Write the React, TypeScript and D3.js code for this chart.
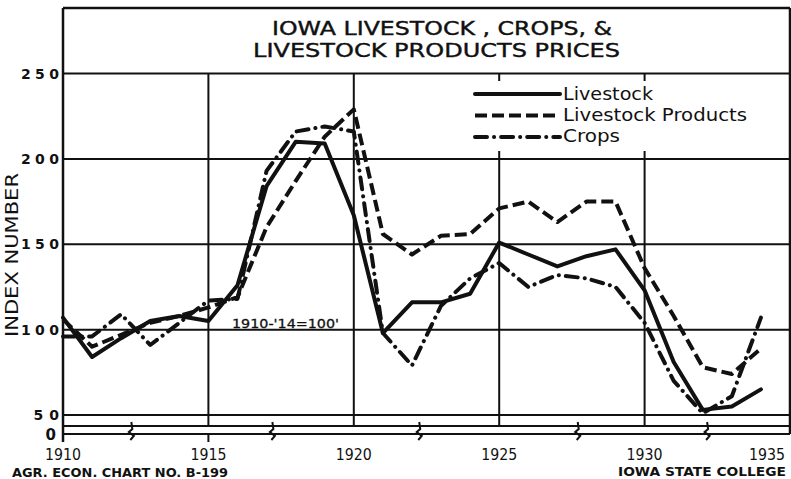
import React from 'react';
import * as d3 from 'd3';

const years = [1910, 1911, 1912, 1913, 1914, 1915, 1916, 1917, 1918, 1919, 1920, 1921, 1922, 1923, 1924, 1925, 1926, 1927, 1928, 1929, 1930, 1931, 1932, 1933, 1934];
const livestock = [107, 84, 95, 105, 108, 105, 126, 184, 210, 209, 167, 98, 116, 116, 121, 151, 144, 137, 143, 147, 123, 81, 53, 55, 65];
const livestockProducts = [106, 90, 97, 104, 108, 113, 119, 160, 187, 213, 229, 156, 144, 155, 156, 171, 175, 163, 175, 175, 136, 108, 78, 74, 89];
const crops = [96, 96, 109, 91, 104, 117, 118, 193, 216, 219, 216, 98, 79, 114, 130, 139, 125, 132, 130, 125, 104, 70, 51, 61, 107];

const yTicks = [50, 100, 150, 200, 250];
const xTicks = [1910, 1915, 1920, 1925, 1930, 1935];
const gridYears = [1915, 1920, 1925, 1930];
const breakYears = [1912.35, 1917.2, 1922.25, 1927.7, 1932.15];
const titleLines = ['IOWA LIVESTOCK , CROPS, &', 'LIVESTOCK PRODUCTS PRICES'];
const legendLabels = ['Livestock', 'Livestock Products', 'Crops'];

const W = 791;
const H = 479;
const LEFT = 63;
const RIGHT = 790;
const TOP = 8;
const INK = '#111';
const FONT = "'DejaVu Sans', 'Liberation Sans', sans-serif";

const styles = [
  { dash: undefined, cap: 'round' },
  { dash: '12,5', cap: 'butt' },
  { dash: '12,7,0.1,7', cap: 'round' },
];

export default function App() {
  const x = d3.scaleLinear().domain([1910, 1935]).range([LEFT, RIGHT]);
  const y = d3.scaleLinear().domain([50, 250]).range([415, 73.5]);
  const breakTop = y(50) + 11;
  const zeroY = y(50) + 19;

  const series = [livestock, livestockProducts, crops];
  const line = d3
    .line<number>()
    .x((_, i) => x(years[i]))
    .y((d) => y(d));

  const legendX0 = 475;
  const legendX1 = 560;
  const legendYs = [94, 115.5, 137];
  const legendBase = [99.5, 120.5, 141.5];
  const legendLens = [90, 184, 57];

  return (
    <svg
      width={W}
      height={H}
      style={{ position: 'absolute', left: 0, top: 0, background: '#fff' }}
      fontFamily={FONT}
    >
      <rect x={0} y={0} width={W} height={H} fill="#fff" />

      {yTicks.map((t) => (
        <line key={'h' + t} x1={LEFT} x2={RIGHT} y1={y(t)} y2={y(t)} stroke={INK} strokeWidth={2} />
      ))}
      {gridYears.map((g) => (
        <line key={'v' + g} x1={x(g)} x2={x(g)} y1={y(250)} y2={breakTop} stroke={INK} strokeWidth={2} />
      ))}
      <line x1={x(1915)} x2={x(1915)} y1={zeroY} y2={zeroY + 8} stroke={INK} strokeWidth={2} />

      <line x1={LEFT} x2={RIGHT} y1={breakTop} y2={breakTop} stroke={INK} strokeWidth={2} />
      <line x1={LEFT} x2={RIGHT} y1={zeroY} y2={zeroY} stroke={INK} strokeWidth={2} />
      {breakYears.map((b) => {
        const bx = x(b);
        return (
          <path
            key={'b' + b}
            d={`M${bx},${breakTop - 4} L${bx + 1},${breakTop + 3} L${bx - 2.5},${zeroY - 2} L${bx + 2.5},${zeroY + 2} L${bx - 1},${zeroY + 6}`}
            fill="none"
            stroke={INK}
            strokeWidth={2}
          />
        );
      })}

      <line x1={LEFT} x2={RIGHT} y1={TOP} y2={TOP} stroke={INK} strokeWidth={2.5} />
      <line x1={LEFT} x2={LEFT} y1={TOP} y2={zeroY + 8} stroke={INK} strokeWidth={2.5} />
      <line x1={RIGHT} x2={RIGHT} y1={TOP} y2={zeroY} stroke={INK} strokeWidth={2.5} />

      <text x={272} y={35} fontSize={19} textLength={340} lengthAdjust="spacingAndGlyphs" fill={INK} stroke={INK} strokeWidth={0.4}>
        {titleLines[0]}
      </text>
      <text x={253} y={57} fontSize={19} textLength={367} lengthAdjust="spacingAndGlyphs" fill={INK} stroke={INK} strokeWidth={0.4}>
        {titleLines[1]}
      </text>

      <rect x={468} y={81} width={316} height={70} fill="#fff" />
      {legendLabels.map((lab, i) => (
        <g key={lab}>
          <line
            x1={legendX0}
            x2={legendX1}
            y1={legendYs[i]}
            y2={legendYs[i]}
            stroke={INK}
            strokeWidth={4}
            strokeDasharray={styles[i].dash}
            strokeLinecap={styles[i].cap as any}
          />
          <text x={563} y={legendBase[i]} fontSize={17} textLength={legendLens[i]} lengthAdjust="spacingAndGlyphs" fill={INK}>
            {lab}
          </text>
        </g>
      ))}

      {series.map((s, i) => (
        <path
          key={'s' + i}
          d={line(s) || ''}
          fill="none"
          stroke={INK}
          strokeWidth={4}
          strokeLinejoin="round"
          strokeDasharray={styles[i].dash}
          strokeLinecap={styles[i].cap as any}
        />
      ))}

      <text x={232} y={328} fontSize={13} textLength={107} lengthAdjust="spacingAndGlyphs" fill={INK} stroke={INK} strokeWidth={0.3}>
        1910-'14=100'
      </text>

      {yTicks.map((t) => (
        <text
          key={'yl' + t}
          x={59}
          y={y(t) + 5}
          fontSize={14}
          fontWeight="bold"
          textAnchor="end"
          textLength={String(t).length * 12.7}
          lengthAdjust="spacing"
          fill={INK}
        >
          {t}
        </text>
      ))}
      <text x={56} y={zeroY + 6} fontSize={15} fontWeight="bold" textAnchor="end" fill={INK}>
        0
      </text>
      <text
        transform={`translate(18,255) rotate(-90)`}
        fontSize={17}
        textAnchor="middle"
        textLength={164}
        lengthAdjust="spacingAndGlyphs"
        fill={INK}
      >
        INDEX NUMBER
      </text>

      {xTicks.map((t) => (
        <text
          key={'xl' + t}
          x={t === 1935 ? RIGHT - 5 : x(t)}
          y={460}
          fontSize={16}
          textAnchor={t === 1935 ? 'end' : 'middle'}
          textLength={36}
          lengthAdjust="spacingAndGlyphs"
          fill={INK}
        >
          {t}
        </text>
      ))}

      <text x={12} y={477} fontSize={12.5} fontWeight="bold" textLength={216} lengthAdjust="spacingAndGlyphs" fill={INK}>
        AGR. ECON. CHART NO. B-199
      </text>
      <text x={618} y={476} fontSize={12} fontWeight="bold" textLength={168} lengthAdjust="spacingAndGlyphs" fill={INK}>
        IOWA STATE COLLEGE
      </text>
    </svg>
  );
}
